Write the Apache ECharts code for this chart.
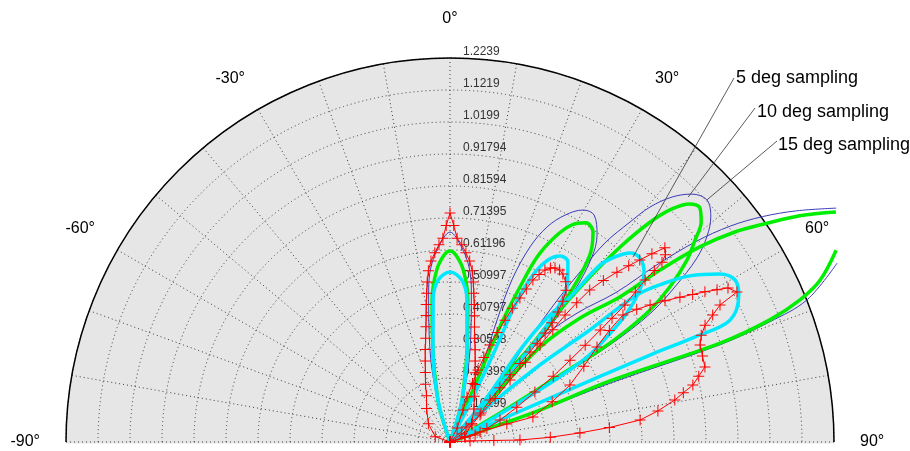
<!DOCTYPE html>
<html lang="en">
<head>
<meta charset="UTF-8">
<title>Beam patterns</title>
<script src="https://cdn.jsdelivr.net/npm/echarts@6/dist/echarts.min.js"></script>
<style>
html, body { margin: 0; height: 100%; background: #fff; }
#main { width: 910px; height: 451px; }
</style>
</head>
<body>
<div id="main"></div>
<script>
// all lobes are [angle in degrees, radius]
const radiusTicks = ['0.10199', '0.20399', '0.30598', '0.40797', '0.50997', '0.61196',
    '0.71395', '0.81594', '0.91794', '1.0199', '1.1219', '1.2239'];
const rMax = 1.2239;

// 15 deg sampling (thin blue)
const blue1 = [[-24,0],[-19,0.08],[-17,0.14],[-12.3,0.300],[-8,0.489],[-6.2,0.561],[-3.5,0.620],[0,0.669],[3.5,0.620],[6.2,0.561],[8,0.489],[12.3,0.300],[17,0.14],[19,0.08],[24,0]];
const blue2 = [[20,0],[23.2,0.146],[22.4,0.293],[21.1,0.417],[20.9,0.553],[22.3,0.672],[24.3,0.752],[26.9,0.811],[29.8,0.852],[32.4,0.857],[35.4,0.809],[37.5,0.743],[39.4,0.627],[41.1,0.461],[40.2,0.271],[41.2,0.135],[43,0]];
const blue3 = [[39,0],[39.8,0.249],[37.6,0.402],[37.1,0.555],[37.4,0.682],[37.9,0.804],[39.3,0.906],[40.4,0.983],[42.2,1.054],[44.3,1.104],[46.7,1.125],[49.2,1.098],[51.3,1.050],[53.3,0.982],[55.4,0.871],[57.1,0.774],[58.2,0.671],[58.9,0.565],[59.2,0.460],[59.8,0.336],[60.5,0.220],[61.9,0.108],[62,0]];
const blue4Up = [[38,0],[41.5,0.185],[41.0,0.417],[44.5,0.573],[48.0,0.712],[49.4,0.865],[50.8,1.010],[52.4,1.128],[54.2,1.228],[56.3,1.328],[58.8,1.439]];
const blue4Low = [[65.2,1.359],[68.3,1.224],[69.4,1.089],[70.2,0.914],[69.8,0.543],[70.8,0.303],[71.5,0.135],[73,0]];

// 10 deg sampling (green)
const green1 = [[-22,0],[-18,0.080],[-16,0.140],[-10.5,0.300],[-7.2,0.456],[-4.5,0.548],[-1.8,0.596],[0,0.609],[1.8,0.596],[4.5,0.548],[7.2,0.456],[10.5,0.300],[16,0.140],[18,0.080],[22,0]];
const green2 = [[22,0],[24.0,0.157],[23.5,0.295],[23.5,0.424],[24.3,0.542],[25.2,0.651],[27.1,0.734],[29.3,0.793],[31.8,0.822],[34.3,0.809],[36.8,0.744],[38.7,0.621],[40.5,0.457],[39.2,0.267],[41.2,0.135],[43,0]];
const green3 = [[40,0],[41.3,0.242],[40.1,0.396],[39.8,0.548],[40.2,0.676],[41.1,0.824],[42.3,0.947],[43.6,1.026],[45.2,1.077],[46.9,1.091],[48.8,1.064],[50.5,1.012],[52.5,0.952],[54.8,0.858],[56.6,0.764],[57.7,0.668],[58.5,0.561],[58.6,0.459],[59.0,0.334],[59.7,0.221],[60.5,0.110],[61,0]];
const green4Up = [[40,0],[43.6,0.185],[43.5,0.417],[46.4,0.573],[49.5,0.712],[50.7,0.865],[52.0,1.010],[53.6,1.128],[55.4,1.228],[57.1,1.328],[59.2,1.432]];
const green4Low = [[63.6,1.374],[66.4,1.287],[67.9,1.204],[69.1,1.091],[69.9,0.917],[69.1,0.546],[70.4,0.304],[70.7,0.135],[72,0]];

// 5 deg sampling (cyan)
const cyan1 = [[-20,0],[-16,0.140],[-10.5,0.298],[-8.1,0.382],[-6.8,0.455],[-4.2,0.517],[0,0.542],[4.2,0.517],[6.8,0.455],[8.1,0.382],[10.5,0.298],[16,0.140],[20,0]];
const cyan2 = [[24,0],[27,0.156],[26.1,0.326],[25.4,0.483],[26.4,0.594],[28.3,0.659],[30.6,0.689],[33.2,0.686],[36.5,0.630],[38.8,0.545],[40.2,0.44],[40.8,0.33],[41.3,0.22],[42.5,0.11],[44,0]];
const cyan3 = [[38,0],[39.8,0.174],[37.3,0.368],[37.9,0.493],[39.6,0.600],[40.3,0.740],[41.7,0.790],[43.6,0.832],[45.9,0.843],[48.8,0.822],[51.3,0.775],[53.9,0.698],[56.2,0.602],[58.2,0.514],[59.3,0.40],[60,0.29],[61,0.18],[62.5,0.09],[64,0]];
const cyan4 = [[46,0],[47.2,0.174],[49.4,0.377],[51.3,0.571],[51.8,0.758],[53.5,0.852],[55.3,0.930],[58.1,1.013],[60.4,1.045],[63.0,1.033],[66.5,0.973],[66.8,0.85],[66.5,0.695],[66.3,0.348],[67,0]];

// measured pattern (red, + markers)
const red1 = [[-80,0],[-70,0.05],[-50,0.09],[-35,0.13],[-27,0.165],[-23,0.20],[-19.5,0.235],[-17,0.27],[-15,0.305],[-13.2,0.34],[-11.8,0.375],[-10.7,0.41],[-9.8,0.445],[-8.9,0.48],[-8.1,0.515],[-7.2,0.55],[-6,0.58],[-4.6,0.605],[-3.2,0.63],[-2,0.65],[-1,0.69],[0,0.730],[1,0.69],[2,0.65],[3.4,0.63],[4.8,0.605],[6.2,0.58],[7.4,0.55],[8.3,0.515],[9.1,0.48],[10,0.445],[11,0.41],[12,0.375],[13.4,0.34],[15.2,0.305],[17.3,0.27],[20,0.235],[23.5,0.2],[28,0.165],[36,0.13],[50,0.09],[70,0.05],[80,0]];
const red2 = [[25,0],[27,0.05],[22,0.11],[20.7,0.153],[21,0.2],[21.3,0.246],[21.8,0.29],[22.4,0.334],[23.3,0.38],[24.3,0.426],[25,0.47],[25.9,0.510],[26.5,0.545],[27.1,0.580],[28,0.605],[28.9,0.626],[30,0.64],[31.1,0.648],[32.5,0.65],[33.9,0.645],[35.8,0.63],[37.4,0.609],[38.7,0.575],[39.7,0.539],[40.5,0.5],[41.1,0.461],[41.4,0.42],[41.6,0.384],[41.7,0.335],[41.8,0.287],[42.5,0.235],[43.6,0.185],[47,0.135],[52.3,0.089],[56,0.045],[60,0]];
const red3 = [[45,0],[47,0.07],[48.0,0.129],[46,0.2],[44.1,0.275],[43.4,0.35],[42.9,0.422],[42.5,0.485],[42.2,0.546],[42.3,0.6],[42.6,0.658],[43.5,0.71],[44.5,0.759],[45.4,0.8],[46.2,0.838],[47,0.88],[47.9,0.923],[49,0.91],[49.7,0.886],[50,0.85],[50.3,0.808],[51,0.76],[51.9,0.708],[52.6,0.65],[53.3,0.597],[54.4,0.53],[55.7,0.463],[57.5,0.39],[59.5,0.314],[62.5,0.24],[66.3,0.174],[70,0.125],[74.4,0.083],[75,0]];
const red4 = [[70,0],[71,0.05],[71.6,0.101],[72.5,0.19],[73.2,0.276],[68.5,0.35],[64.6,0.423],[60.5,0.49],[57.1,0.558],[55,0.62],[53.7,0.684],[54.6,0.73],[55.6,0.773],[56.7,0.82],[57.8,0.866],[58.7,0.905],[59.5,0.943],[60.3,0.98],[61.0,1.013],[62.4,1.032],[63.1,0.965],[64.2,0.93],[65.4,0.894],[67,0.87],[68.8,0.855],[71.2,0.85],[73.6,0.847],[75.2,0.82],[76.8,0.795],[78.1,0.76],[79.4,0.729],[81.5,0.67],[83.4,0.610],[84.8,0.51],[86.0,0.415],[87.3,0.32],[88.4,0.223],[88,0.14],[87,0.064],[85,0]];

// annotations: text, [angle, radius] of the point the leader line touches
const notes = [
    {text: '5 deg sampling', at: [44.7, 0.829], pos: [736, 78], from: [734, 78]},
    {text: '10 deg sampling', at: [44.2, 1.089], pos: [757, 112], from: [755, 108]},
    {text: '15 deg sampling', at: [46.7, 1.125], pos: [778, 145], from: [777, 141]}
];

const FONT = '"Liberation Sans", Arial, Helvetica, sans-serif';
const CX = 450, CY = 442, R = 384;
// the lobes overshoot the outer ring, so they live in a wider hidden polar
const EXT = 1.5;
const chart = echarts.init(document.getElementById('main'));

function lobe(data, color, width, marks) {
    return {
        type: 'line',
        coordinateSystem: 'polar',
        polarIndex: 3,
        clip: false,
        smooth: marks ? false : 0.35,
        showSymbol: !!marks,
        symbol: 'path://M5,0h1v5h5v1h-5v5h-1v-5h-5v-1h5z',
        symbolSize: 11,
        itemStyle: {color: color},
        lineStyle: {color: color, width: width},
        silent: true,
        data: data.map(p => [p[1], p[0]])
    };
}

const series = [];
[blue1, blue2, blue3, blue4Up, blue4Low].forEach(d => series.push(lobe(d, '#3b3bb8', 1)));
[green1, green2, green3, green4Up, green4Low].forEach(d => series.push(lobe(d, '#00ee00', 3.5)));
[cyan1, cyan2, cyan3, cyan4].forEach(d => series.push(lobe(d, '#00e8ff', 3.5)));
[red1, red2, red3, red4].forEach(d => series.push(lobe(d, '#ff0000', 1, true)));

const dotted = {color: '#3a3a3a', width: 1, type: [1, 3]};
const half = {type: 'value', min: -90, max: 90, interval: 10, startAngle: 180, endAngle: 0, clockwise: true};

chart.setOption({
    animation: false,
    backgroundColor: '#fff',
    polar: [
        {center: [CX, CY], radius: R},
        {center: [CX, CY], radius: R},
        {center: [CX, CY], radius: R},
        {center: [CX, CY], radius: R * EXT}
    ],
    angleAxis: [Object.assign({}, half, {
        polarIndex: 0,
        z: 1,
        axisLine: {show: true, lineStyle: {color: '#000', width: 1.5}},
        axisTick: {show: false},
        axisLabel: {
            margin: 26,
            color: '#000',
            fontSize: 16,
            fontFamily: FONT,
            formatter: v => v % 30 !== 0 ? '' : (v === 0 ? '{t|0°}' : v + '°'),
            rich: {t: {fontSize: 16, fontFamily: FONT, color: '#000', padding: [0, 0, 5, 0]}}
        },
        splitLine: {show: true, lineStyle: dotted}
    }), {
        polarIndex: 1,
        type: 'value',
        min: 0,
        max: 360,
        startAngle: 90,
        show: false
    }, Object.assign({}, half, {
        polarIndex: 2,
        show: false
    }), Object.assign({}, half, {
        polarIndex: 3,
        show: false
    })],
    radiusAxis: [{
        polarIndex: 0,
        type: 'value',
        min: 0,
        max: rMax,
        interval: rMax / 12,
        z: 0,
        axisLine: {show: false},
        axisTick: {show: false},
        axisLabel: {show: false},
        splitLine: {show: false},
        splitArea: {show: true, areaStyle: {color: ['#e6e6e6']}}
    }, {
        polarIndex: 1,
        type: 'value',
        min: 0,
        max: rMax,
        interval: rMax / 12,
        z: 1,
        axisLine: {show: false},
        axisTick: {show: false},
        splitLine: {show: false},
        axisLabel: {
            margin: -13,
            align: 'left',
            verticalAlign: 'bottom',
            color: '#333',
            fontSize: 12,
            fontFamily: FONT,
            formatter: v => {
                const i = Math.round(v / (rMax / 12));
                return i > 0 ? radiusTicks[i - 1] : '';
            }
        }
    }, {
        polarIndex: 2,
        type: 'value',
        min: 0,
        max: rMax,
        interval: rMax / 12,
        z: 1,
        axisLine: {show: false},
        axisTick: {show: false},
        axisLabel: {show: false},
        splitLine: {show: true, lineStyle: dotted}
    }, {
        polarIndex: 3,
        type: 'value',
        min: 0,
        max: rMax * EXT,
        show: false
    }],
    series: series
});

// white strip under the diameter, plus the sampling notes and their leader lines
const graphics = [{
    type: 'rect', z: 1, silent: true,
    shape: {x: CX - R - 5, y: CY + 1.5, width: 2 * R + 10, height: 20},
    style: {fill: '#fff'}
}];
notes.forEach(n => {
    const end = chart.convertToPixel({seriesIndex: 0}, [n.at[1], n.at[0]]);
    graphics.push({
        type: 'line', z: 50, silent: true,
        shape: {x1: n.from[0], y1: n.from[1], x2: end[0], y2: end[1]},
        style: {stroke: '#333', lineWidth: 0.8}
    });
    graphics.push({
        type: 'text', z: 50, x: n.pos[0], y: n.pos[1],
        style: {text: n.text, fill: '#000', font: '18px ' + FONT, verticalAlign: 'middle'}
    });
});
chart.setOption({graphic: graphics});
</script>
</body>
</html>
